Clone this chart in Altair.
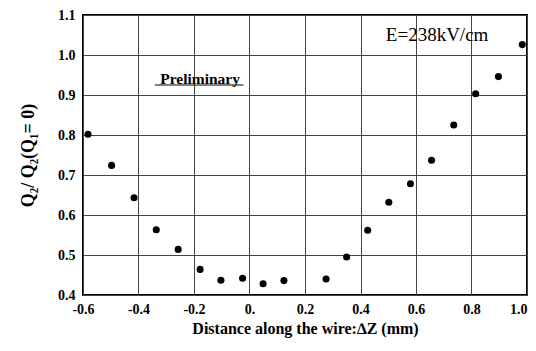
import altair as alt
import pandas as pd

dz = [-0.582, -0.497, -0.416, -0.336, -0.257, -0.178, -0.103, -0.025, 0.049, 0.124,
      0.276, 0.350, 0.426, 0.502, 0.580, 0.656, 0.736, 0.815, 0.897, 0.983]
ratio = [0.802, 0.724, 0.643, 0.563, 0.514, 0.464, 0.437, 0.442, 0.428, 0.436,
         0.440, 0.495, 0.562, 0.632, 0.678, 0.737, 0.825, 0.903, 0.946, 1.026]

x_ticks = [-0.6, -0.4, -0.2, 0.0, 0.2, 0.4, 0.6, 0.8, 1.0]
y_ticks = [0.4, 0.5, 0.6, 0.7, 0.8, 0.9, 1.0, 1.1]

df = pd.DataFrame({"dz": dz, "ratio": ratio})
FONT = "Liberation Serif"

xs = alt.Scale(domain=[-0.6, 1.0], nice=False, zero=False)
ys = alt.Scale(domain=[0.4, 1.1], nice=False, zero=False)

x_axis = alt.Axis(values=x_ticks, title="Distance along the wire:∆Z (mm)",
                  labelExpr="abs(datum.value) < 1e-9 ? '0.' : replace(format(datum.value, '.1f'), '\u2212', '-')",
                  labelAlign={"condition": {"test": "datum.value > 0.99", "value": "right"},
                              "value": "center"},
                  labelFont=FONT, labelFontSize=14, labelFontWeight="bold",
                  labelColor="black", titleFont=FONT, titleFontSize=16,
                  titleFontWeight="bold", titleColor="black", titlePadding=4,
                  labelPadding=7, tickSize=0, domain=False, labelOverlap=False,
                  labelFlush=False,
                  grid=True, gridColor="#444444", gridWidth=1)
y_axis = alt.Axis(values=y_ticks, title="Q₂/  Q₂(Q₁= 0)", format=".1f",
                  labelFont=FONT, labelFontSize=14, labelFontWeight="bold",
                  labelColor="black", titleFont=FONT, titleFontSize=18,
                  titleFontWeight="bold", titleColor="black", titlePadding=20,
                  labelPadding=8, tickSize=0, domain=False, labelOverlap=False,
                  labelFlush=False,
                  grid=True, gridColor="#444444", gridWidth=1)

points = alt.Chart(df).mark_circle(size=50, color="black", opacity=1).encode(
    x=alt.X("dz:Q", scale=xs, axis=x_axis),
    y=alt.Y("ratio:Q", scale=ys, axis=y_axis),
)

lab = pd.DataFrame({"dz": [-0.178], "ratio": [0.94], "t": ["Preliminary"]})
prelim = alt.Chart(lab).mark_text(font=FONT, fontSize=15.5, fontWeight="bold",
                                  color="black").encode(
    x=alt.X("dz:Q", scale=xs, axis=x_axis),
    y=alt.Y("ratio:Q", scale=ys, axis=y_axis), text="t:N")

ul = pd.DataFrame({"dz": [-0.341], "x2": [-0.022], "ratio": [0.925]})
underline = alt.Chart(ul).mark_rule(color="black", strokeWidth=1).encode(
    x=alt.X("dz:Q", scale=xs, axis=x_axis), x2="x2:Q",
    y=alt.Y("ratio:Q", scale=ys, axis=y_axis))

el = pd.DataFrame({"dz": [0.676], "ratio": [1.05], "t": ["E=238kV/cm"]})
elabel = alt.Chart(el).mark_text(font=FONT, fontSize=19, color="black").encode(
    x=alt.X("dz:Q", scale=xs, axis=x_axis),
    y=alt.Y("ratio:Q", scale=ys, axis=y_axis), text="t:N")

chart = alt.layer(points, prelim, underline, elabel).properties(
    width=444, height=280,
    autosize=alt.AutoSizeParams(type="none"),
    padding={"left": 75, "top": 7, "right": 1, "bottom": 52},
    background="white",
).configure_view(stroke="black", strokeWidth=2)

chart.save("out.html", embed_options={"renderer": "svg", "actions": False})
